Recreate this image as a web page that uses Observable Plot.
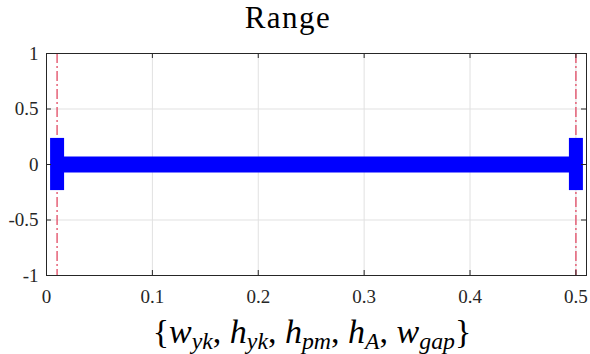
<!DOCTYPE html>
<html>
<head>
<meta charset="utf-8">
<script src="https://cdn.jsdelivr.net/npm/d3@7"></script>
<script src="https://cdn.jsdelivr.net/npm/@observablehq/plot@0.6"></script>
<style>
  body { margin: 0; background: #fff; }
  #wrap { position: relative; width: 590px; height: 354px; overflow: hidden; background: #fff; }
  #chart { position: absolute; left: 0; top: 0; }
  #title { position: absolute; left: 188px; width: 200px; top: 2px; text-align: center;
           font-family: "Liberation Serif", serif; font-size: 31px; letter-spacing: 1.5px; line-height: 1; color: #000; }
  #xlabel { position: absolute; left: 62px; width: 500px; top: 315px; text-align: center;
            font-family: "Liberation Serif", serif; font-size: 34px; line-height: 1; color: #000; white-space: nowrap; }
  #xlabel i { font-style: italic; }
  #xlabel sub { font-size: 0.7em; vertical-align: -0.25em; line-height: 0; font-style: italic; }
  #chart text { font-family: "Liberation Serif", serif; }
</style>
</head>
<body>
<div id="wrap">
  <div id="chart"></div>
  <div id="title">Range</div>
  <div id="xlabel">{<i>w</i><sub>yk</sub>, <i>h</i><sub>yk</sub>, <i>h</i><sub>pm</sub>, <i>h</i><sub>A</sub>, <i>w</i><sub>gap</sub>}</div>
</div>
<script>
// ---- data ----
const rangeLimits = [0.01, 0.5];          // lower / upper bound of the range
const barLevel = [0];                      // y level of the range bar
const capHalfHeight = [0.235];             // half height of the end caps
const xTicks = [0, 0.1, 0.2, 0.3, 0.4, 0.5];
const xTickLabels = ["0", "0.1", "0.2", "0.3", "0.4", "0.5"];
const yTicks = [-1, -0.5, 0, 0.5, 1];
const yTickLabels = ["-1", "-0.5", "0", "0.5", "1"];
const xDomain = [0, 0.51];
const yDomain = [-1, 1];

const barData = [{y: barLevel[0], x1: rangeLimits[0], x2: rangeLimits[1]}];
const capData = rangeLimits.map(x => ({x, y1: -capHalfHeight[0], y2: capHalfHeight[0]}));
const xLab = new Map(xTicks.map((t, i) => [t, xTickLabels[i]]));
const yLab = new Map(yTicks.map((t, i) => [t, yTickLabels[i]]));

const W = 590, H = 354, mt = 53, mb = 79, ml = 46, mr = 4;
const frameH = H - mt - mb, frameW = W - ml - mr, tick = 5;
const axisColor = "#262626";
const serif = "Liberation Serif, serif";

const chart = Plot.plot({
  width: W, height: H,
  marginTop: mt, marginBottom: mb, marginLeft: ml, marginRight: mr,
  x: {domain: xDomain},
  y: {domain: yDomain},
  style: {fontFamily: serif, fontSize: "19px", color: axisColor, background: "transparent"},
  marks: [
    Plot.gridX(xTicks, {stroke: "#e1e1e1", strokeOpacity: 1}),
    Plot.gridY(yTicks, {stroke: "#e1e1e1", strokeOpacity: 1}),
    Plot.ruleX(rangeLimits, {stroke: "#e4566e", strokeWidth: 1.4, strokeDasharray: "10,3,2,3"}),
    Plot.ruleY(barData, {y: "y", x1: "x1", x2: "x2", stroke: "#0000ff", strokeWidth: 16}),
    Plot.ruleX(capData, {x: "x", y1: "y1", y2: "y2", stroke: "#0000ff", strokeWidth: 14}),
    // inward ticks on all four sides
    Plot.ruleX(xTicks, {stroke: axisColor, insetTop: frameH - tick}),
    Plot.ruleX(xTicks, {stroke: axisColor, insetBottom: frameH - tick}),
    Plot.ruleY(yTicks, {stroke: axisColor, insetLeft: frameW - tick}),
    Plot.ruleY(yTicks, {stroke: axisColor, insetRight: frameW - tick}),
    Plot.frame({stroke: axisColor, strokeWidth: 1}),
    Plot.axisX(xTicks, {tickSize: 0, tickPadding: 14, tickFormat: d => xLab.get(d), label: null,
                        fill: axisColor, fontFamily: serif, fontSize: 19}),
    Plot.axisY(yTicks, {tickSize: 0, tickPadding: 8, tickFormat: d => yLab.get(d), label: null,
                        fill: axisColor, fontFamily: serif, fontSize: 19})
  ]
});
document.getElementById("chart").appendChild(chart);
</script>
</body>
</html>
